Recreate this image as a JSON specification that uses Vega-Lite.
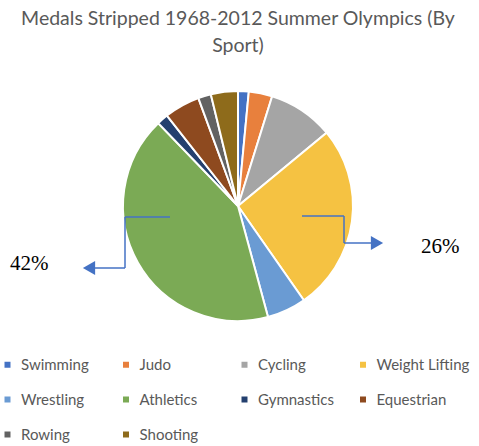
{
  "$schema": "https://vega.github.io/schema/vega-lite/v6.json",
  "width": 476,
  "height": 284,
  "autosize": {"type": "none"},
  "padding": {"top": 64, "left": 0, "right": 3, "bottom": 98},
  "background": "white",
  "title": {
    "text": ["Medals Stripped 1968-2012 Summer Olympics (By", "Sport)"],
    "font": "Lato",
    "fontSize": 19.5,
    "fontWeight": "normal",
    "color": "#595959",
    "lineHeight": 27,
    "anchor": "middle",
    "offset": 8
  },
  "config": {"view": {"stroke": null}},
  "layer": [
    {
      "data": {"values": [
        {"sport": "Swimming", "pct": 1.5, "order": 1},
        {"sport": "Judo", "pct": 3.3, "order": 2},
        {"sport": "Cycling", "pct": 9.2, "order": 3},
        {"sport": "Weight Lifting", "pct": 26.3, "order": 4},
        {"sport": "Wrestling", "pct": 5.5, "order": 5},
        {"sport": "Athletics", "pct": 42, "order": 6},
        {"sport": "Gymnastics", "pct": 1.6, "order": 7},
        {"sport": "Equestrian", "pct": 5, "order": 8},
        {"sport": "Rowing", "pct": 1.8, "order": 9},
        {"sport": "Shooting", "pct": 3.8, "order": 10}
      ]},
      "mark": {"type": "arc", "outerRadius": 115, "stroke": "white", "strokeWidth": 2},
      "encoding": {
        "theta": {"field": "pct", "type": "quantitative", "stack": true},
        "order": {"field": "order", "type": "quantitative"},
        "color": {
          "field": "sport",
          "type": "nominal",
          "scale": {
            "domain": ["Swimming", "Judo", "Cycling", "Weight Lifting", "Wrestling", "Athletics", "Gymnastics", "Equestrian", "Rowing", "Shooting"],
            "range": ["#4472C4", "#E8803D", "#A5A5A5", "#F5C242", "#6A9BD3", "#7BAA55", "#24406F", "#8E4A1F", "#626262", "#8E6B1B"]
          },
          "legend": {
            "orient": "bottom",
            "direction": "horizontal",
            "columns": 4,
            "title": null,
            "symbolType": "square",
            "symbolSize": 36,
            "symbolStrokeWidth": 0,
            "labelFont": "Lato",
            "labelFontSize": 15,
            "labelColor": "#595959",
            "labelOffset": 6,
            "labelLimit": 300,
            "rowPadding": 19,
            "columnPadding": 4.5,
            "gridAlign": "all",
            "offset": 9
          }
        }
      }
    },
    {
      "data": {"values": [
        {"x": 170, "y": 153, "x2": 125, "y2": 153},
        {"x": 125, "y": 153, "x2": 125, "y2": 204},
        {"x": 125, "y": 204, "x2": 92, "y2": 204},
        {"x": 302, "y": 152, "x2": 344, "y2": 152},
        {"x": 344, "y": 152, "x2": 344, "y2": 179},
        {"x": 344, "y": 179, "x2": 372, "y2": 179}
      ]},
      "mark": {"type": "rule", "color": "#4472C4", "strokeWidth": 1.5},
      "encoding": {
        "x": {"field": "x", "type": "quantitative", "scale": {"domain": [0, 476], "nice": false, "zero": false}, "axis": null},
        "y": {"field": "y", "type": "quantitative", "scale": {"domain": [0, 284], "nice": false, "zero": false, "reverse": true}, "axis": null},
        "x2": {"field": "x2"},
        "y2": {"field": "y2"}
      }
    },
    {
      "data": {"values": [
        {"x": 89, "y": 204, "shape": "triangle-left"},
        {"x": 377, "y": 179, "shape": "triangle-right"}
      ]},
      "mark": {"type": "point", "filled": true, "color": "#4472C4", "size": 200, "opacity": 1},
      "encoding": {
        "x": {"field": "x", "type": "quantitative"},
        "y": {"field": "y", "type": "quantitative"},
        "shape": {"field": "shape", "type": "nominal", "scale": null, "legend": null}
      }
    },
    {
      "data": {"values": [
        {"x": 10, "y": 206, "label": "42%"},
        {"x": 421, "y": 189, "label": "26%"}
      ]},
      "mark": {"type": "text", "font": "Liberation Serif", "fontSize": 21, "color": "#000000", "align": "left", "baseline": "alphabetic"},
      "encoding": {
        "x": {"field": "x", "type": "quantitative"},
        "y": {"field": "y", "type": "quantitative"},
        "text": {"field": "label", "type": "nominal"}
      }
    }
  ]
}
